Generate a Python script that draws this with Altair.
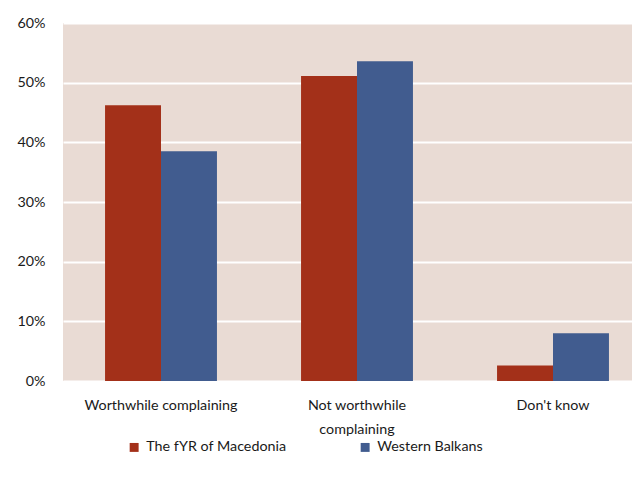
import altair as alt
import pandas as pd

categories = ["Worthwhile complaining", "Not worthwhile complaining", "Don't know"]
series = ["The fYR of Macedonia", "Western Balkans"]
macedonia = [0.462, 0.511, 0.026]
balkans = [0.385, 0.536, 0.080]
colors = ["#A33019", "#415C8F"]

rows = []
for c, m, b in zip(categories, macedonia, balkans):
    rows.append({"category": c, "series": series[0], "value": m})
    rows.append({"category": c, "series": series[1], "value": b})
df = pd.DataFrame(rows)

FONT = "Lato"
FS = 14.3

chart = alt.Chart(df).mark_bar().encode(
    x=alt.X("category:N", sort=categories, title=None,
            scale=alt.Scale(paddingInner=0.429, paddingOuter=0.2145),
            axis=alt.Axis(labelAngle=0, domain=False, ticks=False, labelPadding=17,
                          labelFontSize=FS, labelColor="#1a1a1a", labelFont=FONT,
                          labelLineHeight=24, labelBaseline="top",
                          labelExpr="datum.value == 'Not worthwhile complaining' ? ['Not worthwhile', 'complaining'] : datum.value")),
    xOffset=alt.XOffset("series:N", sort=series),
    y=alt.Y("value:Q", title=None,
            scale=alt.Scale(domain=[0, 0.6], nice=False),
            axis=alt.Axis(format=".0%", values=[0, 0.1, 0.2, 0.3, 0.4, 0.5, 0.6],
                          domain=False, ticks=False, labelPadding=18,
                          labelFontSize=FS, labelColor="#1a1a1a", labelFont=FONT,
                          gridColor="white", gridWidth=2)),
    color=alt.Color("series:N", sort=series,
                    scale=alt.Scale(domain=series, range=colors),
                    legend=alt.Legend(title=None, orient="none", direction="horizontal",
                                      legendX=64, legendY=417, symbolType="square",
                                      symbolSize=80, symbolStrokeWidth=0,
                                      labelFontSize=FS, labelFont=FONT, labelColor="#1a1a1a",
                                      columnPadding=71, labelOffset=5, labelLimit=300)),
).properties(
    width=588, height=358,
    autosize=alt.AutoSizeParams(type="none"),
    padding={"left": 55, "top": 15, "right": -19, "bottom": 85},
).configure_view(
    fill="#E9DBD4", stroke=None
)

chart.save("out.html", embed_options={"renderer": "svg", "actions": False})
